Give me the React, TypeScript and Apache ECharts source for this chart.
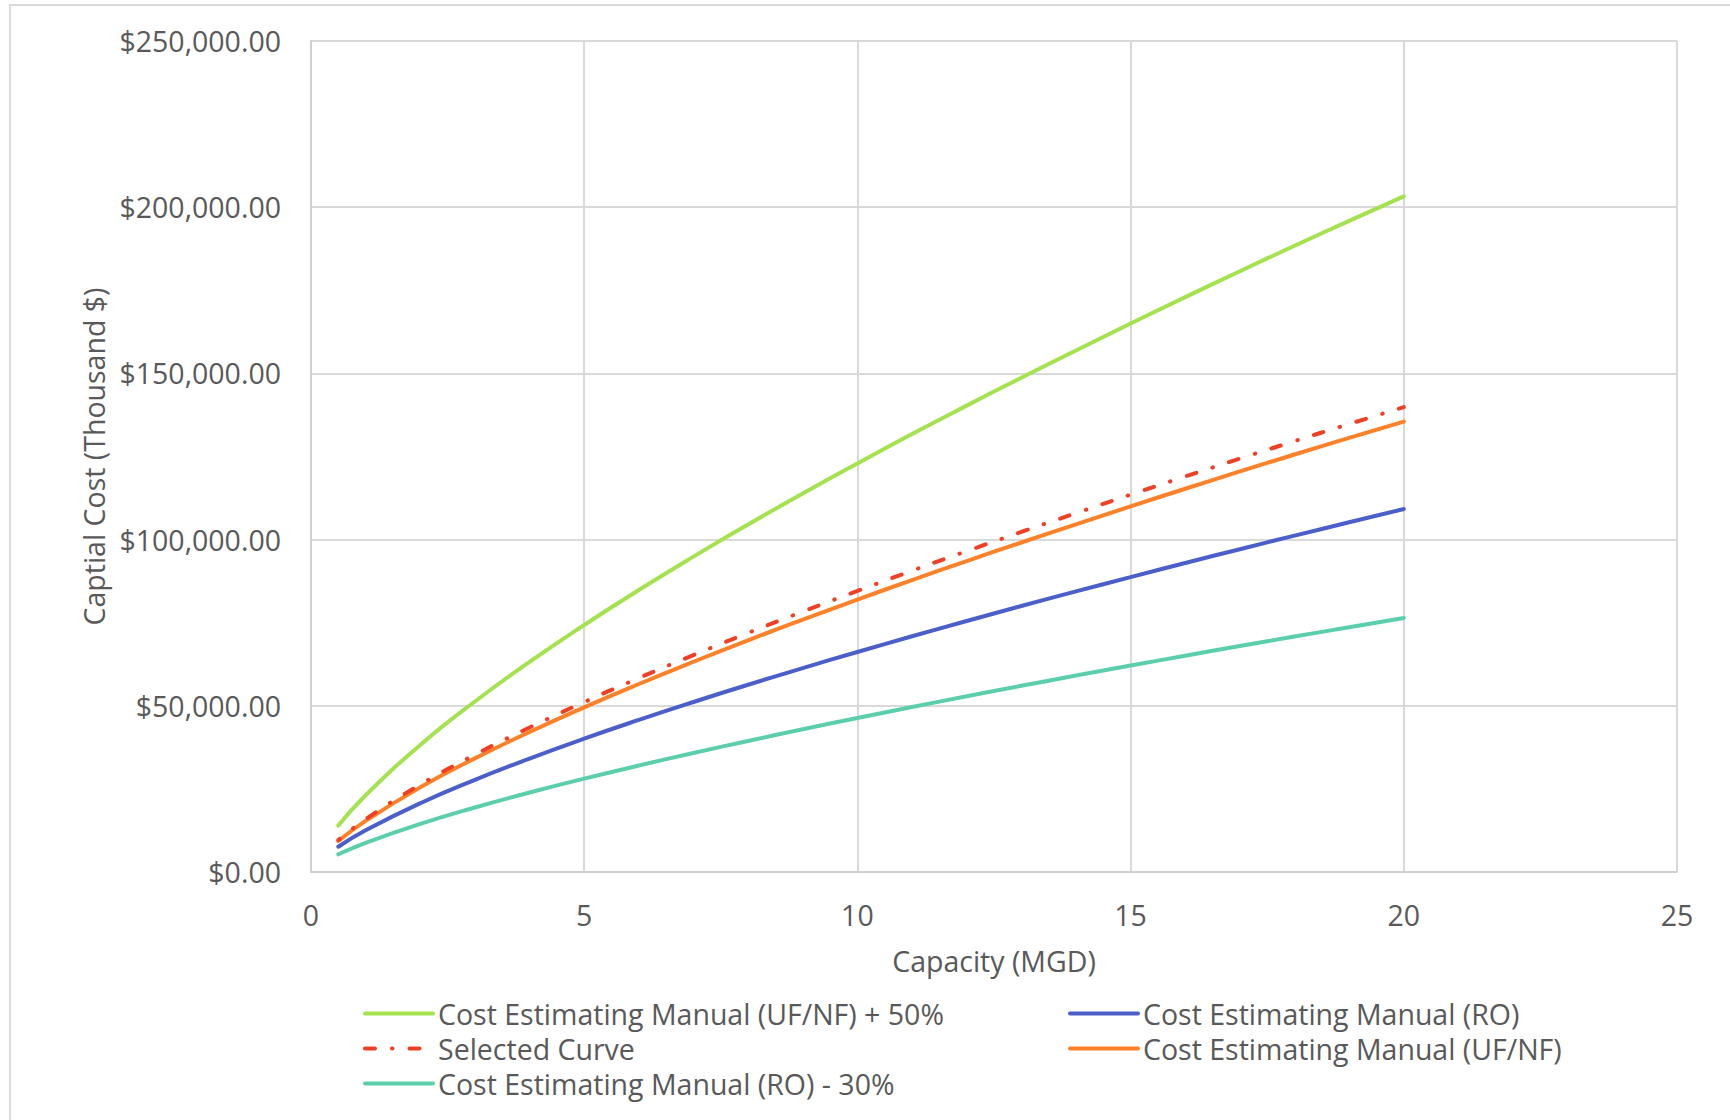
import React, { useEffect, useRef } from "react";
import * as echarts from "echarts";

// Capacity (MGD)
const capacity = [0.5, 1, 2, 3, 4, 5, 6, 7, 8, 9, 10, 11, 12, 13, 14, 15, 16, 17, 18, 19, 20];

// Capital cost (thousand $)
const ufnfPlus50 = [13970, 23100, 38210, 51290, 63200, 74310, 84830, 94880, 104550, 113870, 122910, 131750, 140310, 148700, 156900, 165000, 172950, 180750, 188400, 195900, 203250];
const roCost = [7600, 12540, 20690, 27730, 34140, 40120, 45760, 51150, 56330, 61350, 66190, 70910, 75520, 80010, 84410, 88720, 92960, 97110, 101200, 105200, 109200];
const selectedCurve = [9610, 15890, 26290, 35280, 43480, 51130, 58360, 65270, 71930, 78340, 84560, 90640, 96530, 102300, 107950, 113520, 118990, 124360, 129620, 134780, 139840];
const ufnfCost = [9310, 15400, 25470, 34190, 42130, 49540, 56550, 63250, 69700, 75910, 81940, 87830, 93540, 99130, 104600, 110000, 115300, 120500, 125600, 130600, 135500];
const roMinus30 = [5320, 8780, 14480, 19410, 23900, 28080, 32030, 35810, 39430, 42950, 46330, 49640, 52860, 56010, 59090, 62100, 65070, 67980, 70840, 73640, 76440];

const seriesNames = [
  "Cost Estimating Manual (UF/NF) + 50%",
  "Cost Estimating Manual (RO)",
  "Selected Curve",
  "Cost Estimating Manual (UF/NF)",
  "Cost Estimating Manual (RO) - 30%",
];

const FONT = "'Open Sans', 'Noto Sans', sans-serif";
const TEXT = "#595959";
const FS = 28.5;

function pairs(ys: number[]) {
  return capacity.map((x, i) => [x, ys[i]]);
}

function fmtMoney(v: number) {
  const s = Math.round(v).toString().replace(/\B(?=(\d{3})+(?!\d))/g, ",");
  return "$" + s + ".00";
}

export default function App() {
  const ref = useRef<HTMLDivElement>(null);
  useEffect(() => {
    if (!ref.current) return;
    const chart = echarts.init(ref.current, null, { renderer: "svg" });
    const lineSeries = (name: string, data: number[], color: string, extra: any = {}) => ({
      name,
      type: "line",
      data: pairs(data),
      smooth: true,
      symbol: "none",
      showSymbol: false,
      lineStyle: { color, width: 4, cap: "round", ...extra },
      itemStyle: { color },
    });
    const legendBase = {
      orient: "vertical",
      top: 996,
      padding: 0,
      itemGap: 0,
      itemWidth: 68,
      itemHeight: 14,
      itemStyle: { color: "transparent", borderWidth: 0, opacity: 0 },
      lineStyle: { width: 4, dashOffset: 0 },
      textStyle: { fontFamily: FONT, fontSize: FS, color: TEXT, lineHeight: 35 },
    };
    chart.setOption({
      animation: false,
      backgroundColor: "#ffffff",
      textStyle: { fontFamily: FONT },
      graphic: [
        {
          type: "rect",
          shape: { x: 10, y: 5, width: 1740, height: 1140 },
          style: { fill: "none", stroke: "#D9D9D9", lineWidth: 2 },
          silent: true,
        },
      ],
      grid: { left: 311, top: 41, right: 53, bottom: 248, containLabel: false },
      xAxis: {
        type: "value",
        min: 0,
        max: 25,
        interval: 5,
        name: "Capacity (MGD)",
        nameLocation: "middle",
        nameGap: 74,
        nameTextStyle: { fontFamily: FONT, fontSize: FS, color: TEXT },
        axisLine: { show: true, lineStyle: { color: "#D0D0D0", width: 2 } },
        axisTick: { show: false },
        axisLabel: { fontFamily: FONT, fontSize: FS, color: TEXT, margin: 28 },
        splitLine: { show: true, lineStyle: { color: "#D9D9D9", width: 2 } },
      },
      yAxis: {
        type: "value",
        min: 0,
        max: 250000,
        interval: 50000,
        name: "Captial Cost (Thousand $)",
        nameLocation: "middle",
        nameGap: 203,
        nameTextStyle: { fontFamily: FONT, fontSize: FS, color: TEXT },
        axisLine: { show: true, lineStyle: { color: "#D0D0D0", width: 2 } },
        axisTick: { show: false },
        axisLabel: { fontFamily: FONT, fontSize: FS, color: TEXT, margin: 30, formatter: (v: number) => fmtMoney(v) },
        splitLine: { show: true, lineStyle: { color: "#D9D9D9", width: 2 } },
      },
      legend: [
        { ...legendBase, left: 363, data: [seriesNames[0], seriesNames[2], seriesNames[4]] },
        { ...legendBase, left: 1068, data: [seriesNames[1], seriesNames[3]] },
      ],
      series: [
        lineSeries(seriesNames[0], ufnfPlus50, "#A4E24F"),
        lineSeries(seriesNames[1], roCost, "#4A5FCA"),
        lineSeries(seriesNames[4], roMinus30, "#5BCFAC"),
        lineSeries(seriesNames[3], ufnfCost, "#FD8128"),
        lineSeries(seriesNames[2], selectedCurve, "#EF4026", { type: [10, 17, 0.5, 17], dashOffset: 8 }),
      ],
    });
    return () => chart.dispose();
  }, []);
  return (
    <div
      ref={ref}
      style={{ position: "fixed", left: 0, top: 0, width: 1730, height: 1120, background: "#fff" }}
    />
  );
}
